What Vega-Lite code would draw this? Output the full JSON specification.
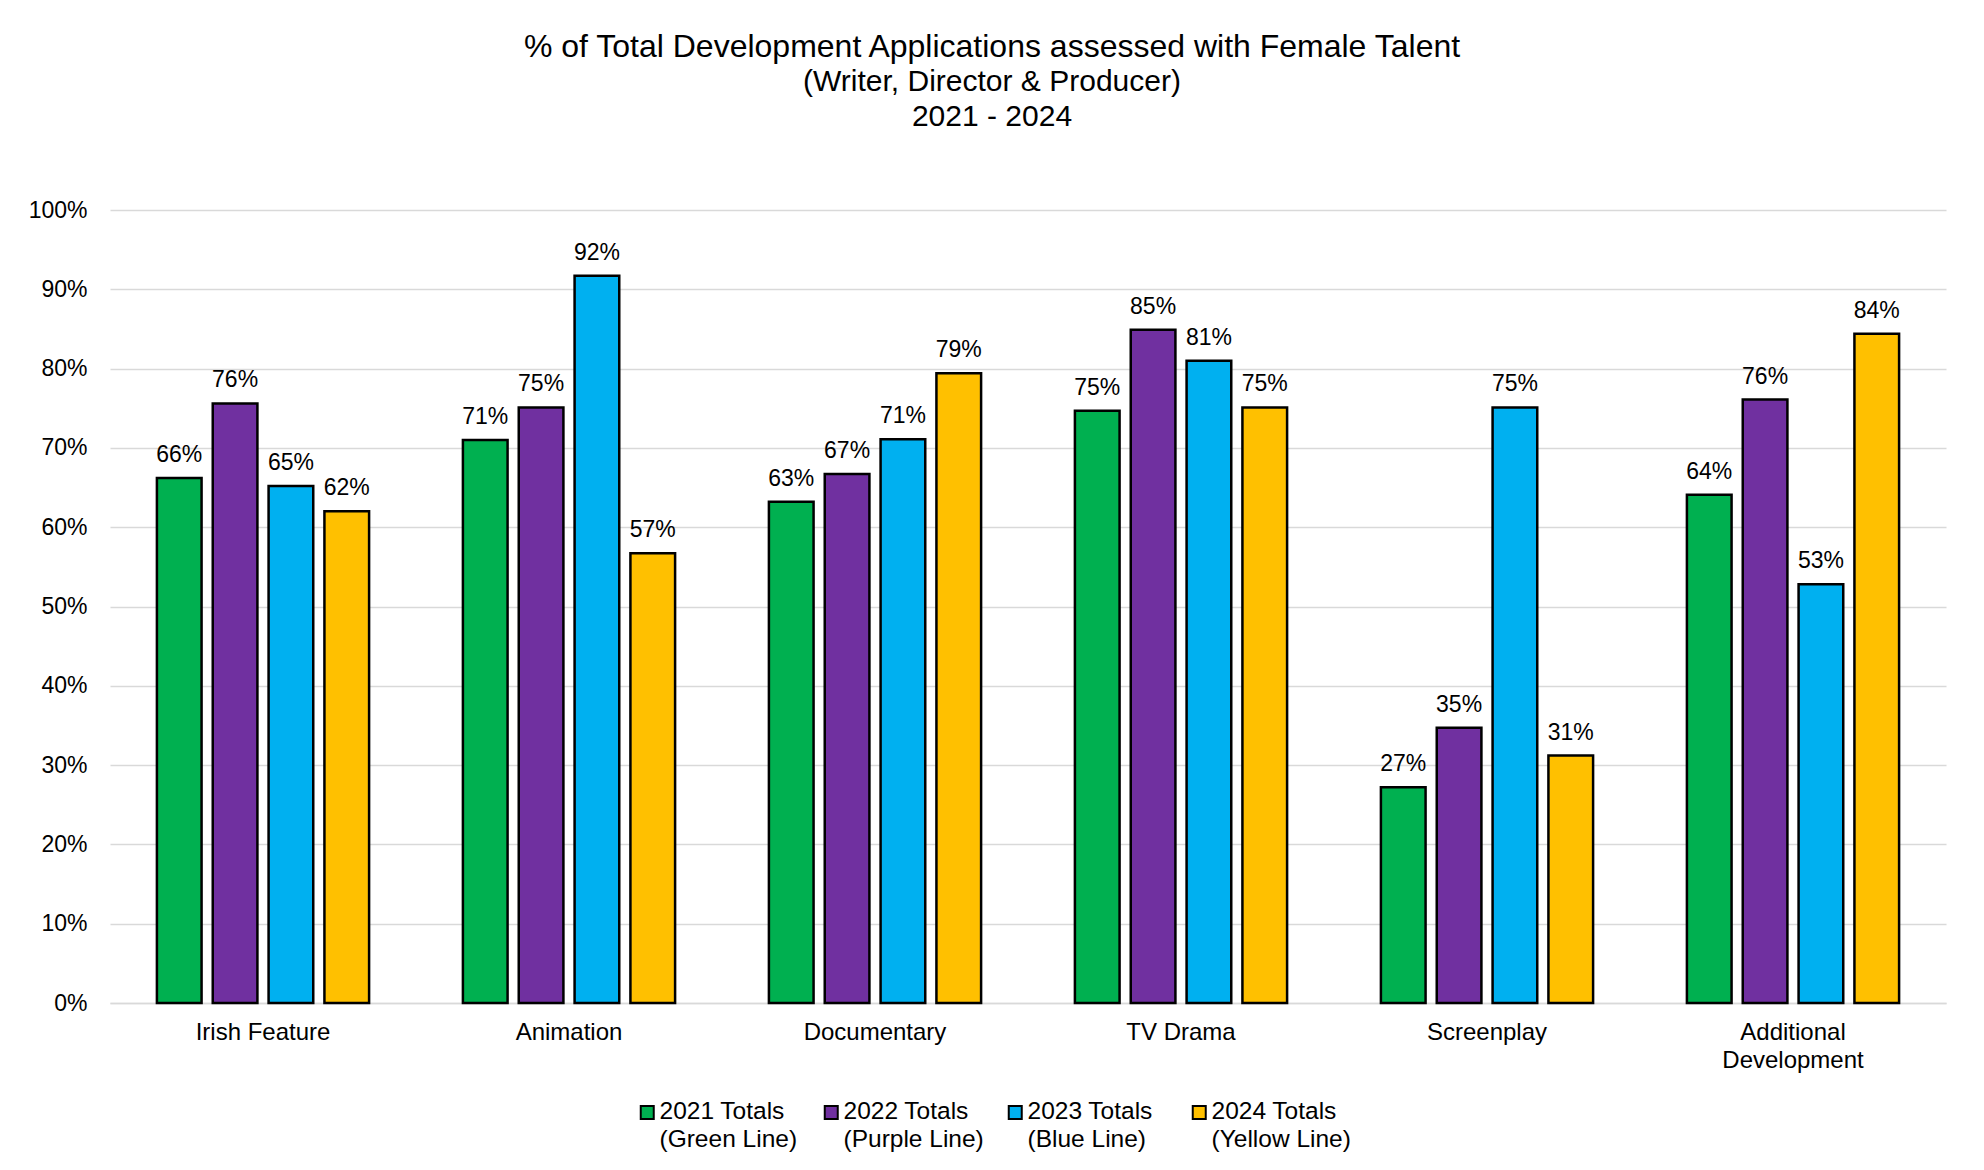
{
  "$schema": "https://vega.github.io/schema/vega-lite/v6.json",
  "width": 1836,
  "height": 793,
  "autosize": {"type": "none"},
  "padding": {"left": 110, "top": 210, "right": 38, "bottom": 167},
  "background": "white",
  "title": {
    "text": "% of Total Development Applications assessed with Female Talent",
    "subtitle": ["(Writer, Director & Producer)", "2021 - 2024"],
    "anchor": "middle",
    "frame": "group",
    "dx": -36,
    "offset": 66,
    "font": "Liberation Sans",
    "fontSize": 32,
    "fontWeight": "normal",
    "color": "#000000",
    "subtitleFont": "Liberation Sans",
    "subtitleFontSize": 30,
    "subtitleColor": "#000000",
    "subtitleLineHeight": 35,
    "subtitlePadding": 3
  },
  "data": {
    "values": [
      {"category": "Irish Feature", "series": "2021 Totals", "value": 0.662},
      {"category": "Irish Feature", "series": "2022 Totals", "value": 0.756},
      {"category": "Irish Feature", "series": "2023 Totals", "value": 0.652},
      {"category": "Irish Feature", "series": "2024 Totals", "value": 0.620},
      {"category": "Animation", "series": "2021 Totals", "value": 0.710},
      {"category": "Animation", "series": "2022 Totals", "value": 0.751},
      {"category": "Animation", "series": "2023 Totals", "value": 0.917},
      {"category": "Animation", "series": "2024 Totals", "value": 0.567},
      {"category": "Documentary", "series": "2021 Totals", "value": 0.632},
      {"category": "Documentary", "series": "2022 Totals", "value": 0.667},
      {"category": "Documentary", "series": "2023 Totals", "value": 0.711},
      {"category": "Documentary", "series": "2024 Totals", "value": 0.794},
      {"category": "TV Drama", "series": "2021 Totals", "value": 0.747},
      {"category": "TV Drama", "series": "2022 Totals", "value": 0.849},
      {"category": "TV Drama", "series": "2023 Totals", "value": 0.810},
      {"category": "TV Drama", "series": "2024 Totals", "value": 0.751},
      {"category": "Screenplay", "series": "2021 Totals", "value": 0.272},
      {"category": "Screenplay", "series": "2022 Totals", "value": 0.347},
      {"category": "Screenplay", "series": "2023 Totals", "value": 0.751},
      {"category": "Screenplay", "series": "2024 Totals", "value": 0.312},
      {"category": "Additional Development", "series": "2021 Totals", "value": 0.641},
      {"category": "Additional Development", "series": "2022 Totals", "value": 0.761},
      {"category": "Additional Development", "series": "2023 Totals", "value": 0.528},
      {"category": "Additional Development", "series": "2024 Totals", "value": 0.844}
    ]
  },
  "encoding": {
    "x": {
      "field": "category",
      "type": "nominal",
      "sort": ["Irish Feature", "Animation", "Documentary", "TV Drama", "Screenplay", "Additional Development"],
      "scale": {"paddingInner": 0, "paddingOuter": 0},
      "axis": {
        "title": null,
        "labelAngle": 0,
        "labelFont": "Liberation Sans",
        "labelFontSize": 24,
        "labelColor": "#000000",
        "labelPadding": 17,
        "labelLineHeight": 28,
        "labelExpr": "datum.label == 'Additional Development' ? ['Additional', 'Development'] : datum.label",
        "ticks": false,
        "domain": true,
        "domainColor": "#D9D9D9",
        "domainWidth": 1.5,
        "grid": false
      }
    },
    "xOffset": {
      "field": "series",
      "type": "nominal",
      "sort": ["2021 Totals", "2022 Totals", "2023 Totals", "2024 Totals"],
      "scale": {"paddingInner": 0.2, "paddingOuter": 0.84}
    },
    "y": {
      "field": "value",
      "type": "quantitative",
      "scale": {"domain": [0, 1]},
      "axis": {
        "title": null,
        "values": [0, 0.1, 0.2, 0.3, 0.4, 0.5, 0.6, 0.7, 0.8, 0.9, 1],
        "format": ".0%",
        "labelFont": "Liberation Sans",
        "labelFontSize": 23,
        "labelColor": "#000000",
        "labelPadding": 23,
        "ticks": false,
        "domain": false,
        "grid": true,
        "gridColor": "#D9D9D9",
        "gridWidth": 1.5
      }
    }
  },
  "layer": [
    {
      "mark": {"type": "bar", "stroke": "#000000", "strokeWidth": 2.5},
      "encoding": {
        "color": {
          "field": "series",
          "type": "nominal",
          "scale": {
            "domain": ["2021 Totals", "2022 Totals", "2023 Totals", "2024 Totals"],
            "range": ["#00B050", "#7030A0", "#00B0F0", "#FFC000"]
          },
          "legend": {
            "title": null,
            "orient": "none",
            "legendX": 525,
            "legendY": 890,
            "direction": "horizontal",
            "columns": 4,
            "gridAlign": "all",
            "columnPadding": 19,
            "symbolType": "square",
            "symbolSize": 169,
            "symbolStrokeColor": "#000000",
            "symbolStrokeWidth": 2,
            "labelFont": "Liberation Sans",
            "labelFontSize": 24.5,
            "labelColor": "#000000",
            "labelOffset": 0,
            "labelLimit": 400,
            "labelExpr": "[datum.label, datum.label == '2021 Totals' ? '(Green Line)' : datum.label == '2022 Totals' ? '(Purple Line)' : datum.label == '2023 Totals' ? '(Blue Line)' : '(Yellow Line)']",
            "encode": {"labels": {"update": {"lineHeight": {"value": 28}}}}
          }
        }
      }
    },
    {
      "mark": {
        "type": "text",
        "baseline": "alphabetic",
        "dy": -16,
        "font": "Liberation Sans",
        "fontSize": 23,
        "color": "#000000"
      },
      "encoding": {
        "text": {"field": "value", "type": "quantitative", "format": ".0%"}
      }
    }
  ],
  "config": {"view": {"stroke": null}}
}
